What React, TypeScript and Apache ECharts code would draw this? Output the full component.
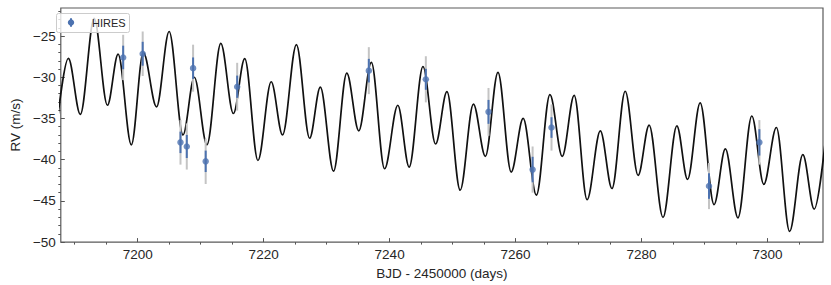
import React, { useEffect, useRef } from "react";
import * as echarts from "echarts";

// Model curve: extrema (BJD - 2450000, RV m/s)
const modelTime = [
  7187.0, 7189.0, 7190.9, 7193.1, 7195.2, 7196.9, 7199.0, 7200.9, 7203.0, 7205.0,
  7207.2, 7209.0, 7211.0, 7213.2, 7215.2, 7217.0, 7219.1, 7221.2, 7223.0, 7225.2,
  7227.3, 7229.0, 7231.1, 7233.2, 7235.1, 7237.1, 7239.2, 7241.3, 7243.1, 7245.3,
  7247.3, 7249.1, 7251.2, 7253.3, 7255.2, 7257.2, 7259.3, 7261.2, 7263.3, 7265.45,
  7267.4, 7269.3, 7271.35, 7273.45, 7275.3, 7277.4, 7279.45, 7281.2, 7283.4, 7285.6,
  7287.3, 7289.3, 7291.5, 7293.3, 7295.3, 7297.5, 7299.4, 7301.4, 7303.5, 7305.6,
  7307.4, 7309.5,
];
const modelRV = [
  -37.0, -27.7, -34.5, -22.85, -33.4, -27.2, -38.2, -27.0, -33.6, -24.45,
  -37.0, -30.0, -38.2, -25.9, -34.4, -27.75, -40.1, -30.55, -37.0, -26.04,
  -37.4, -31.2, -41.4, -29.5, -36.5, -28.2, -41.1, -33.4, -40.9, -28.7,
  -38.1, -31.75, -43.7, -33.25, -39.6, -29.4, -41.5, -35.0, -44.3, -32.1,
  -39.6, -32.2, -44.85, -36.5, -43.5, -31.7, -41.9, -35.8, -47.0, -35.9,
  -42.4, -33.1, -45.45, -38.7, -47.05, -34.7, -43.0, -36.1, -48.7, -39.4,
  -46.0, -35.3,
];

// HIRES observations
const obsTime = [7197.7, 7200.8, 7206.8, 7207.8, 7208.8, 7210.8, 7215.8, 7236.7, 7245.75, 7255.7, 7262.7, 7265.7, 7290.7, 7298.7];
const obsRV = [-27.6, -27.15, -37.9, -38.4, -28.9, -40.2, -31.15, -29.2, -30.25, -34.2, -41.2, -36.1, -43.2, -37.9];
const obsErr = [1.43, 1.45, 1.3, 1.4, 1.3, 1.3, 1.35, 1.43, 1.27, 1.45, 1.55, 1.25, 1.55, 1.6];
const obsErrTotal = [2.75, 2.7, 2.7, 2.8, 2.85, 2.75, 2.9, 2.85, 2.8, 2.9, 2.8, 2.8, 2.8, 2.7];

// Axes
const xMin = 7187.8;
const xMax = 7308.8;
const yMin = -50;
const yMax = -21.6;
const xTickValues = [7200, 7220, 7240, 7260, 7280, 7300];
const xMinorTickValues = [
  7190, 7195, 7205, 7210, 7215, 7225, 7230, 7235, 7245, 7250, 7255,
  7265, 7270, 7275, 7285, 7290, 7295, 7305,
];
const yTickValues = [-50, -45, -40, -35, -30, -25];
const yMinorTickValues = [
  -49, -48, -47, -46, -44, -43, -42, -41, -39, -38, -37, -36,
  -34, -33, -32, -31, -29, -28, -27, -26, -24, -23, -22,
];

const legendLabel = "HIRES";
const xAxisName = "BJD - 2450000 (days)";
const yAxisName = "RV (m/s)";

const FONT = "'Liberation Sans', Arial, Helvetica, sans-serif";
const BLUE = "#4c72b0";
const TEXT = "#262626";
const TICK = "#555555";

export default function App() {
  const ref = useRef<HTMLDivElement>(null);

  useEffect(() => {
    if (!ref.current) return;
    const chart = echarts.init(ref.current, undefined, { renderer: "svg" });

    const modelData = modelTime.map((t, i) => [t, modelRV[i]]);
    const obsData = obsTime.map((t, i) => [t, obsRV[i], obsErr[i], obsErrTotal[i]]);

    const minus = (v: number) => (v < 0 ? "\u2212" + Math.abs(v) : String(v));

    chart.setOption({
      animation: false,
      textStyle: { fontFamily: FONT },
      grid: {
        left: 51,
        right: 8,
        top: 8,
        bottom: 40,
        show: true,
        borderColor: "#5a5a5a",
        borderWidth: 1.2,
        backgroundColor: "transparent",
      },
      xAxis: [
        {
          type: "value",
          min: xMin,
          max: xMax,
          position: "bottom",
          name: xAxisName,
          nameLocation: "middle",
          nameGap: 20,
          nameTextStyle: { fontSize: 13.5, color: TEXT, fontFamily: FONT },
          axisLine: { show: false },
          splitLine: { show: false },
          axisTick: {
            show: true,
            inside: true,
            length: 4,
            customValues: xTickValues,
            lineStyle: { color: TICK, width: 1 },
          },
          axisLabel: {
            show: true,
            customValues: xTickValues,
            margin: 5,
            fontSize: 13.5,
            color: TEXT,
            fontFamily: FONT,
            formatter: (v: number) => String(v),
          },
        },
        {
          type: "value",
          min: xMin,
          max: xMax,
          position: "bottom",
          axisLine: { show: false },
          splitLine: { show: false },
          axisLabel: { show: false },
          axisTick: {
            show: true,
            inside: false,
            length: 2.5,
            customValues: xMinorTickValues,
            lineStyle: { color: TICK, width: 1 },
          },
        },
      ],
      yAxis: [
        {
          type: "value",
          min: yMin,
          max: yMax,
          position: "left",
          name: yAxisName,
          nameLocation: "middle",
          nameGap: 33,
          nameRotate: 90,
          nameTextStyle: { fontSize: 13.5, color: TEXT, fontFamily: FONT },
          axisLine: { show: false },
          splitLine: { show: false },
          axisTick: {
            show: true,
            inside: true,
            length: 4,
            customValues: yTickValues,
            lineStyle: { color: TICK, width: 1 },
          },
          axisLabel: {
            show: true,
            customValues: yTickValues,
            margin: 5,
            fontSize: 13.5,
            color: TEXT,
            fontFamily: FONT,
            formatter: (v: number) => minus(v),
          },
        },
        {
          type: "value",
          min: yMin,
          max: yMax,
          position: "left",
          axisLine: { show: false },
          splitLine: { show: false },
          axisLabel: { show: false },
          axisTick: {
            show: true,
            inside: false,
            length: 2.5,
            customValues: yMinorTickValues,
            lineStyle: { color: TICK, width: 1 },
          },
        },
      ],
      series: [
        {
          type: "line",
          name: "model",
          xAxisIndex: 0,
          yAxisIndex: 0,
          data: modelData,
          smooth: 0.34,
          smoothMonotone: "x",
          showSymbol: false,
          symbol: "none",
          clip: true,
          z: 1,
          lineStyle: { color: "#111111", width: 1.7 },
        },
        {
          type: "custom",
          name: legendLabel,
          xAxisIndex: 0,
          yAxisIndex: 0,
          data: obsData,
          encode: { x: 0, y: 1 },
          z: 3,
          renderItem: (_params: any, api: any) => {
            const x = api.value(0);
            const y = api.value(1);
            const e = api.value(2);
            const et = api.value(3);
            const t2 = api.coord([x, y + et]);
            const b2 = api.coord([x, y - et]);
            const t1 = api.coord([x, y + e]);
            const b1 = api.coord([x, y - e]);
            return {
              type: "group",
              children: [
                {
                  type: "line",
                  shape: { x1: t2[0], y1: t2[1], x2: b2[0], y2: b2[1] },
                  style: { stroke: "#c4c4c4", lineWidth: 2 },
                },
                {
                  type: "line",
                  shape: { x1: t1[0], y1: t1[1], x2: b1[0], y2: b1[1] },
                  style: { stroke: BLUE, lineWidth: 2 },
                },
              ],
            };
          },
        },
        {
          type: "scatter",
          name: legendLabel,
          xAxisIndex: 0,
          yAxisIndex: 0,
          data: obsData.map((d) => [d[0], d[1]]),
          symbol: "circle",
          symbolSize: 6.5,
          z: 4,
          itemStyle: { color: BLUE },
        },
      ],
      graphic: [
        {
          type: "rect",
          z: 100,
          shape: { x: 56.5, y: 13.5, width: 73, height: 19, r: 2 },
          style: { fill: "rgba(255,255,255,0.8)", stroke: "#cccccc", lineWidth: 1 },
        },
        {
          type: "line",
          z: 101,
          shape: { x1: 71, y1: 18.3, x2: 71, y2: 26.7 },
          style: { stroke: BLUE, lineWidth: 2 },
        },
        {
          type: "circle",
          z: 102,
          shape: { cx: 71, cy: 22.5, r: 3.2 },
          style: { fill: BLUE },
        },
        {
          type: "text",
          z: 103,
          x: 92,
          y: 23,
          style: {
            text: legendLabel,
            fontSize: 11,
            fill: TEXT,
            fontFamily: FONT,
            verticalAlign: "middle",
            align: "left",
          },
        },
      ],
    });

    return () => {
      chart.dispose();
    };
  }, []);

  return (
    <div
      ref={ref}
      style={{ position: "absolute", left: 0, top: 0, width: 831, height: 285 }}
    />
  );
}
